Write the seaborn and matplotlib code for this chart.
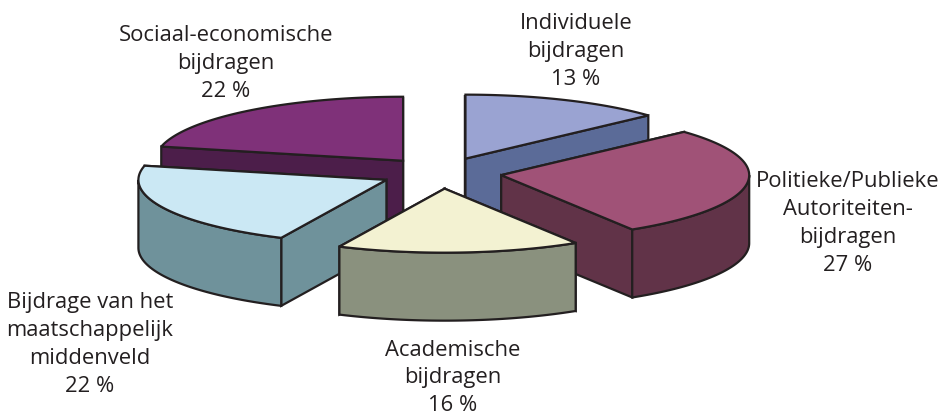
import numpy as np
import matplotlib
matplotlib.use('Agg')
import matplotlib.pyplot as plt
import seaborn as sns

# slices, clockwise from 12 o'clock
categories = ['Individuele\nbijdragen',
              'Politieke/Publieke\nAutoriteiten-\nbijdragen',
              'Academische\nbijdragen',
              'Bijdrage van het\nmaatschappelijk\nmiddenveld',
              'Sociaal-economische\nbijdragen']
shares = [13, 27, 16, 22, 22]
top_colors = ['#9aa3d2', '#a05277', '#f3f2d2', '#cbe8f4', '#7f3179']
side_colors = ['#5b6b98', '#613348', '#8a917e', '#6f929b', '#4c1e4a']

# the 3d perspective moves the slice borders a little (degrees)
border_shift = [0.7, 4.1, 3.5, 2.0, 0]
label_xy = [(576, 51.5), (848, 223.5), (453, 378), (90, 344.5), (226, 63.5)]
draw_order = [4, 0, 3, 1, 2]

# pie geometry in pixels
CX, CY = 441, 173
RX, RY = 248, 64
DEPTH = 68
EXPLODE = 0.245
INK = '#231f20'

sns.set_theme(style='white')
plt.rcParams['font.family'] = ['Open Sans', 'DejaVu Sans']

fig, ax = plt.subplots(figsize=(9.4, 4.16), dpi=100)
fig.subplots_adjust(0, 0, 1, 1)
ax.set_xlim(0, 940)
ax.set_ylim(416, 0)
ax.axis('off')


def rim(theta, x0, y0):
    t = np.radians(theta)
    return x0 + RX * np.sin(t), y0 - RY * np.cos(t)


def wall(xs, ys):
    # closes a top edge with the same edge moved down by DEPTH
    return np.r_[xs, xs[::-1]], np.r_[ys, ys[::-1] + DEPTH]


ends = np.cumsum(shares) / np.sum(shares) * 360 + np.array(border_shift)
starts = np.r_[0, ends[:-1]]

for i in draw_order:
    a0, a1 = starts[i], ends[i]
    x0, y0 = rim((a0 + a1) / 2, 0, 0)
    x0, y0 = CX + EXPLODE * x0, CY + EXPLODE * y0

    walls = []
    for a in (a0, a1):
        xe, ye = rim(a, x0, y0)
        walls.append(wall(np.array([x0, xe]), np.array([y0, ye])))
    # outer wall only where the rim faces the viewer
    lo, hi = max(a0, 90), min(a1, 270)
    if hi > lo:
        xa, ya = rim(np.linspace(lo, hi, 80), x0, y0)
        walls.append(wall(xa, ya))
    walls.sort(key=lambda w: w[1].mean())
    for xs, ys in walls:
        ax.fill(xs, ys, fc=side_colors[i], ec=INK, lw=1.6, joinstyle='miter')

    xa, ya = rim(np.linspace(a0, a1, 120), x0, y0)
    ax.fill(np.r_[x0, xa], np.r_[y0, ya], fc=top_colors[i], ec=INK, lw=1.6, joinstyle='miter')

for name, share, (lx, ly) in zip(categories, shares, label_xy):
    ax.text(lx, ly, f'{name}\n{share} %', ha='center', va='center', fontsize=15.8,
            color=INK, linespacing=1.42)

fig.savefig('out.png', dpi=100)
